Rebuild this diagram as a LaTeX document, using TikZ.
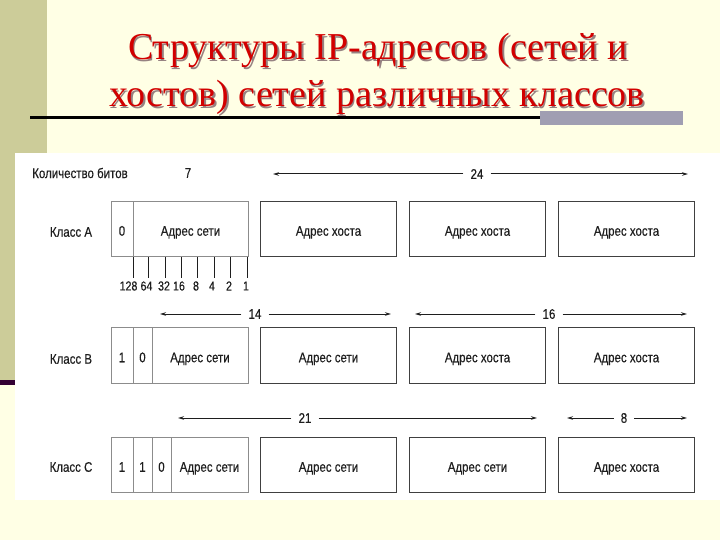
\documentclass[tikz,border=0pt]{standalone}
\usepackage{fontspec}
\setmainfont{Liberation Serif}
\newfontfamily\narrow[FakeStretch=0.82,FakeBold=0.3]{Liberation Sans}
\usetikzlibrary{arrows.meta}
\definecolor{bgc}{RGB}{255,255,229}
\definecolor{stripe}{RGB}{204,204,153}
\definecolor{darkbar}{RGB}{51,0,51}
\definecolor{graybar}{RGB}{160,158,178}
\definecolor{titred}{RGB}{210,0,0}
\definecolor{titshadow}{RGB}{150,130,130}
\definecolor{txt}{RGB}{30,30,30}
\newcommand{\shadowed}[1]{\makebox[0pt][l]{\hspace{1.6pt}\raisebox{-1.6pt}{\textcolor{titshadow}{#1}}}\textcolor{titred}{#1}}
\tikzset{
  lbl/.style={font=\narrow\fontsize{14}{16}\selectfont, text=txt, inner sep=0pt},
  wlbl/.style={font=\narrow\fontsize{13}{15}\selectfont, text=txt, inner sep=0pt},
  firstcell/.style={draw=black!45, line width=0.8pt, minimum height=55.5pt, inner sep=0pt, outer sep=0pt,
     font=\narrow\fontsize{14}{16}\selectfont, text=txt, anchor=west, text height=13.5pt, text depth=0pt},
  hostcell/.style={draw=black!75, line width=1.1pt, minimum height=55.5pt, minimum width=136pt, inner sep=0pt,
     font=\narrow\fontsize{14}{16}\selectfont, text=txt, text height=13.5pt, text depth=0pt},
  numlbl/.style={font=\narrow\fontsize{14}{16}\selectfont, text=txt, inner xsep=7pt, inner ysep=0pt},
  arr/.style={draw=txt, line width=1pt, -{Stealth[length=6pt,width=3.5pt]}},
  tick/.style={draw=txt, line width=0.9pt},
  titl/.style={font=\fontsize{38}{42}\selectfont, anchor=base, inner sep=0pt}
}
\begin{document}
\begin{tikzpicture}[x=1pt,y=-1pt]
\useasboundingbox (0,0) rectangle (720,540);
% background
\fill[bgc] (0,0) rectangle (720,540);
\fill[stripe] (0,0) rectangle (47,380);
\fill[darkbar] (0,380) rectangle (15,385);
% title
\node[titl] (t1) at (378,60) {\shadowed{Структуры IP-адресов (сетей и}};
\node[titl] (t2) at (377,107) {\shadowed{хостов) сетей различных классов}};
% rule
\fill[graybar] (540,111) rectangle (683,125);
\fill[black] (30,116) rectangle (540,119);
% white panel
\fill[white] (15,153) rectangle (720,500);

% header row
\node[lbl] (qb) at (80,173) {Количество битов};
\node[lbl] (seven) at (188,173) {7};
\node[numlbl] (n24) at (477,174) {24};
\coordinate (a24l) at (273,174);
\coordinate (a24r) at (688,174);
\draw[arr] (n24) -- (a24l);
\draw[arr] (n24) -- (a24r);

% class A
\node[lbl] (ka) at (71,232) {Класс А};
\node[firstcell, minimum width=22pt] (a0) at (111,229) {0};
\node[firstcell, minimum width=115pt] (anet) at (133,229) {Адрес сети};
\node[hostcell] (ah1) at (328.5,229) {Адрес хоста};
\node[hostcell] (ah2) at (477.5,229) {Адрес хоста};
\node[hostcell] (ah3) at (626.5,229) {Адрес хоста};

% bit weights
\foreach \tx/\lx/\v [count=\i] in {133/128.5/128, 148/146.5/64, 165/164/32, 181/179/16, 197/196/8, 214/212/4, 230/229/2, 247/246/1}{
  \coordinate (tk\i) at (\tx,257);
  \coordinate (tb\i) at (\tx,278);
  \draw[tick] (tk\i) -- (tb\i);
  \node[wlbl] (w\i) at (\lx,286) {\v};
}

% class B arrows
\node[numlbl] (n14) at (255,314) {14};
\coordinate (a14l) at (160,314);
\coordinate (a14r) at (391,314);
\draw[arr] (n14) -- (a14l);
\draw[arr] (n14) -- (a14r);
\node[numlbl] (n16) at (549,314) {16};
\coordinate (a16l) at (415,314);
\coordinate (a16r) at (687,314);
\draw[arr] (n16) -- (a16l);
\draw[arr] (n16) -- (a16r);

% class B
\node[lbl] (kb) at (71,359) {Класс В};
\node[firstcell, minimum width=22pt] (b1) at (111,355.5) {1};
\node[firstcell, minimum width=19pt] (b0) at (133,355.5) {0};
\node[firstcell, minimum width=96pt] (bnet) at (152,355.5) {Адрес сети};
\node[hostcell] (bh1) at (328.5,355.5) {Адрес сети};
\node[hostcell] (bh2) at (477.5,355.5) {Адрес хоста};
\node[hostcell] (bh3) at (626.5,355.5) {Адрес хоста};

% class C arrows
\node[numlbl] (n21) at (305,418) {21};
\coordinate (a21l) at (178,418);
\coordinate (a21r) at (537,418);
\draw[arr] (n21) -- (a21l);
\draw[arr] (n21) -- (a21r);
\node[numlbl] (n8) at (624,418) {8};
\coordinate (a8l) at (567,418);
\coordinate (a8r) at (687,418);
\draw[arr] (n8) -- (a8l);
\draw[arr] (n8) -- (a8r);

% class C
\node[lbl] (kc) at (71,467) {Класс С};
\node[firstcell, minimum width=22pt] (c1) at (111,465) {1};
\node[firstcell, minimum width=19pt] (c2) at (133,465) {1};
\node[firstcell, minimum width=19pt] (c0) at (152,465) {0};
\node[firstcell, minimum width=77pt] (cnet) at (171,465) {Адрес сети};
\node[hostcell] (ch1) at (328.5,465) {Адрес сети};
\node[hostcell] (ch2) at (477.5,465) {Адрес сети};
\node[hostcell] (ch3) at (626.5,465) {Адрес хоста};
\end{tikzpicture}
\end{document}
